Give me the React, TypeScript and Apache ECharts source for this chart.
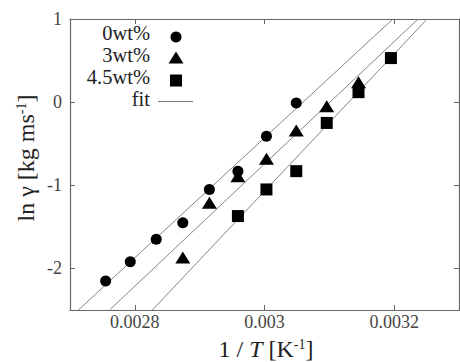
import React, { useEffect, useRef } from "react";
import * as echarts from "echarts";

// 1/T values [K^-1] and ln(gamma) values
const x0wt = [0.002755, 0.002793, 0.002833, 0.002874, 0.002915, 0.002959, 0.003003, 0.003049];
const y0wt = [-2.15, -1.92, -1.65, -1.45, -1.05, -0.83, -0.41, -0.01];
const x3wt = [0.002874, 0.002915, 0.002959, 0.003003, 0.003049, 0.003096, 0.003145];
const y3wt = [-1.87, -1.21, -0.89, -0.68, -0.34, -0.05, 0.24];
const x45wt = [0.002959, 0.003003, 0.003049, 0.003096, 0.003145, 0.003195];
const y45wt = [-1.37, -1.05, -0.83, -0.25, 0.12, 0.53];

// fit lines: x where each crosses the bottom (-2.5) and top (1) of the frame
const fitYEnds = [-2.5, 1];
const fit0X = [0.002713, 0.003198];
const fit3X = [0.002761, 0.003237];
const fit45X = [0.002827, 0.003251];

const xTicks = [0.0028, 0.003, 0.0032];
const yTicks = [-2, -1, 0, 1];
const legendNames = ["0wt%", "3wt%", "4.5wt%", "fit"];

const FONT = "Liberation Serif";

const pairs = (xs: number[], ys: number[]) => xs.map((x, i) => [x, ys[i]]);

export default function App() {
  const ref = useRef<HTMLDivElement>(null);
  useEffect(() => {
    if (!ref.current) return;
    const chart = echarts.init(ref.current, null, { renderer: "svg" });
    const axisLineStyle = { color: "#666", width: 1.2 };
    const tickStyle = { color: "#666", width: 1 };
    const baseX = {
      type: "value" as const,
      min: 0.0027,
      max: 0.0033,
      splitLine: { show: false },
      axisLine: { show: true, onZero: false, lineStyle: axisLineStyle },
    };
    const baseY = {
      type: "value" as const,
      min: -2.5,
      max: 1,
      splitLine: { show: false },
      axisLine: { show: true, onZero: false, lineStyle: axisLineStyle },
    };
    const lineSeries = (name: string, xs: number[]) => ({
      name,
      type: "line" as const,
      data: pairs(xs, fitYEnds),
      showSymbol: false,
      symbol: "none",
      lineStyle: { color: "#777", width: 0.9 },
      z: 1,
      silent: true,
    });
    const scatter = (name: string, data: number[][], symbol: string, size: any) => ({
      name,
      type: "scatter" as const,
      data,
      symbol,
      symbolSize: size,
      itemStyle: { color: "#000", opacity: 1 },
      z: 3,
    });
    const legendText = (text: string, y: number) => ({
      type: "text",
      x: 150,
      y,
      style: {
        text,
        fontFamily: FONT,
        fontSize: 20.5,
        lineHeight: 18,
        fill: "#222",
        align: "right",
        verticalAlign: "middle",
      },
    });
    chart.setOption({
      animation: false,
      backgroundColor: "#fff",
      textStyle: { fontFamily: FONT },
      grid: { left: 70, right: 1, top: 19, bottom: 52, containLabel: false },
      xAxis: [
        {
          ...baseX,
          position: "bottom",
          axisTick: { show: true, inside: true, length: 5, customValues: xTicks, lineStyle: tickStyle },
          axisLabel: {
            show: true,
            customValues: xTicks,
            margin: 3,
            color: "#444",
            fontFamily: FONT,
            fontSize: 18,
            formatter: (v: number) => String(+v.toFixed(6)),
          },
        },
        {
          ...baseX,
          position: "top",
          axisTick: { show: true, inside: true, length: 5, customValues: xTicks, lineStyle: tickStyle },
          axisLabel: { show: false },
        },
      ],
      yAxis: [
        {
          ...baseY,
          position: "left",
          axisTick: { show: true, inside: true, length: 5, customValues: yTicks, lineStyle: tickStyle },
          axisLabel: {
            show: true,
            customValues: yTicks,
            margin: 8,
            color: "#444",
            fontFamily: FONT,
            fontSize: 18,
          },
        },
        {
          ...baseY,
          position: "right",
          axisTick: { show: true, inside: true, length: 5, customValues: yTicks, lineStyle: tickStyle },
          axisLabel: { show: false },
        },
      ],
      series: [
        lineSeries("fit-0", fit0X),
        lineSeries("fit-3", fit3X),
        lineSeries("fit-4.5", fit45X),
        scatter(legendNames[0], pairs(x0wt, y0wt), "circle", 11),
        scatter(legendNames[1], pairs(x3wt, y3wt), "triangle", [15, 12]),
        scatter(legendNames[2], pairs(x45wt, y45wt), "rect", 12),
      ],
      graphic: [
        legendText(legendNames[0], 33),
        legendText(legendNames[1], 55),
        legendText(legendNames[2], 76.5),
        legendText(legendNames[3], 99),
        { type: "circle", shape: { cx: 176, cy: 37, r: 5.5 }, style: { fill: "#000" } },
        {
          type: "polygon",
          shape: { points: [[168.5, 63.5], [183.5, 63.5], [176, 51.5]] },
          style: { fill: "#000" },
        },
        { type: "rect", shape: { x: 170, y: 74.5, width: 12, height: 12 }, style: { fill: "#000" } },
        {
          type: "line",
          shape: { x1: 158, y1: 101.5, x2: 193, y2: 101.5 },
          style: { stroke: "#777", lineWidth: 1 },
        },
        {
          type: "text",
          x: 266,
          y: 349,
          style: {
            text: "{a|1 / }{i|T}{a| [K}{s|-1}{a|]}",
            align: "center",
            verticalAlign: "middle",
            fill: "#222",
            rich: {
              a: { fontFamily: FONT, fontSize: 24, lineHeight: 24, fill: "#222" },
              i: { fontFamily: FONT, fontSize: 24, lineHeight: 24, fontStyle: "italic", fill: "#222" },
              s: { fontFamily: FONT, fontSize: 14, lineHeight: 24, verticalAlign: "top", fill: "#222" },
            },
          },
        },
        {
          type: "text",
          x: 26,
          y: 158,
          rotation: Math.PI / 2,
          style: {
            text: "{a|ln γ [kg ms}{s|-1}{a|]}",
            align: "center",
            verticalAlign: "middle",
            fill: "#222",
            rich: {
              a: { fontFamily: FONT, fontSize: 24, lineHeight: 24, fill: "#222" },
              s: { fontFamily: FONT, fontSize: 14, lineHeight: 24, verticalAlign: "top", fill: "#222" },
            },
          },
        },
      ],
    });
    return () => chart.dispose();
  }, []);
  return (
    <div
      ref={ref}
      style={{ position: "fixed", left: 0, top: 0, width: 460, height: 362, background: "#fff" }}
    />
  );
}
